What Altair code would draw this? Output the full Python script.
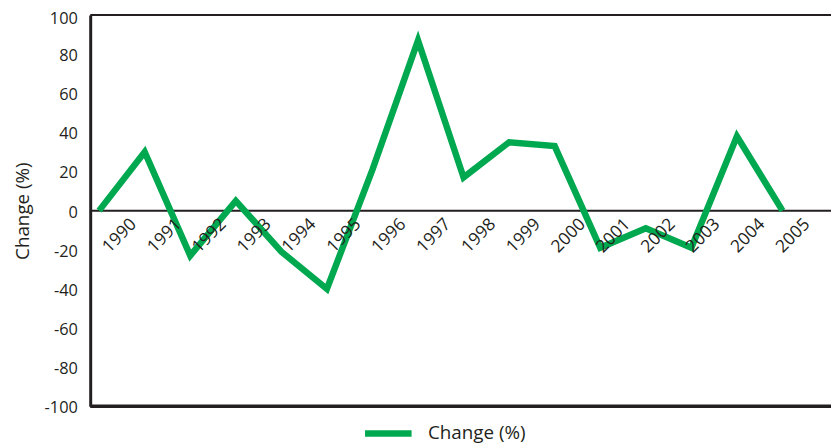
import altair as alt
import pandas as pd

# ---- data ----
point_index = list(range(16))
change_values = [0, 30, -23, 5, -21, -40, 21, 87, 17, 35, 33, -19, -9, -19, 38, 0]
year_labels = [str(y) for y in range(1990, 2006)]
year_positions = list(range(1990, 2006))
series_name = "Change (%)"
y_ticks = [-100, -80, -60, -40, -20, 0, 20, 40, 60, 80, 100]
frame_lines = [0, 100, -100]

line_df = pd.DataFrame({"idx": point_index, "value": change_values, "series": series_name})
label_df = pd.DataFrame({"year": year_positions, "label": year_labels})

GREEN = "#00A84F"
INK = "#231f20"
W, H = 748, 395

yscale = alt.Scale(domain=[-100, 100], nice=False)
yaxis = alt.Axis(
    values=y_ticks,
    title="Change (%)",
    titleFontSize=19,
    titleFontWeight="normal",
    titleColor=INK,
    titleX=-68,
    titleY=H / 2,
    titleBaseline="middle",
    titleAngle=270,
    labelFontSize=16.5,
    labelColor=INK,
    labelPadding=13,
    labelOverlap=False,
    labelOffset=alt.ExprRef("datum.value == 100 ? 4 : 1.5"),
    labelExpr="datum.value < 0 ? '-' + abs(datum.value) : '' + datum.value",
    ticks=False,
    grid=False,
    domainColor=INK,
    domainWidth=3,
)

def yenc():
    return alt.Y("value:Q", scale=yscale, axis=yaxis, title="Change (%)")

zero_rule = alt.Chart(pd.DataFrame({"value": [frame_lines[0]]})).mark_rule(color=INK, strokeWidth=2).encode(y=yenc())
top_rule = alt.Chart(pd.DataFrame({"value": [frame_lines[1]]})).mark_rule(color=INK, strokeWidth=2).encode(y=yenc())
bottom_rule = alt.Chart(pd.DataFrame({"value": [frame_lines[2]]})).mark_rule(color=INK, strokeWidth=3.5).encode(y=yenc())

line = alt.Chart(line_df).mark_line(strokeWidth=6.5, strokeJoin="miter").encode(
    x=alt.X("idx:Q", scale=alt.Scale(domain=[-0.1957, 16.065], nice=False, zero=False), axis=None),
    y=yenc(),
    color=alt.Color(
        "series:N",
        scale=alt.Scale(domain=[series_name], range=[GREEN]),
        legend=alt.Legend(
            title=None,
            orient="none",
            legendX=274,
            legendY=395.5,
            symbolType="stroke",
            symbolSize=2209,
            symbolStrokeWidth=6.5,
            symbolStrokeColor=GREEN,
            labelFontSize=19,
            labelColor=INK,
            labelOffset=13,
        ),
    ),
)

labels = alt.Chart(label_df).mark_text(
    angle=315, align="right", baseline="middle", fontSize=17.5, color=INK, dx=-8, dy=8
).encode(
    x=alt.X("year:Q", scale=alt.Scale(domain=[1989.029, 2005.531], nice=False, zero=False), axis=None),
    y=alt.YDatum(0, scale=yscale, axis=yaxis),
    text="label:N",
)

chart = (
    alt.layer(zero_rule, top_rule, bottom_rule, line, labels)
    .resolve_scale(x="independent")
    .properties(
        width=W,
        height=H,
        padding={"left": 83, "top": 5, "right": 0, "bottom": 36},
        autosize=alt.AutoSizeParams(type="none"),
    )
    .configure(font="Open Sans")
    .configure_axis(labelOverlap=False)
    .configure_view(stroke=None)
)

chart.save("out.html", embed_options={"renderer": "svg", "actions": False})
